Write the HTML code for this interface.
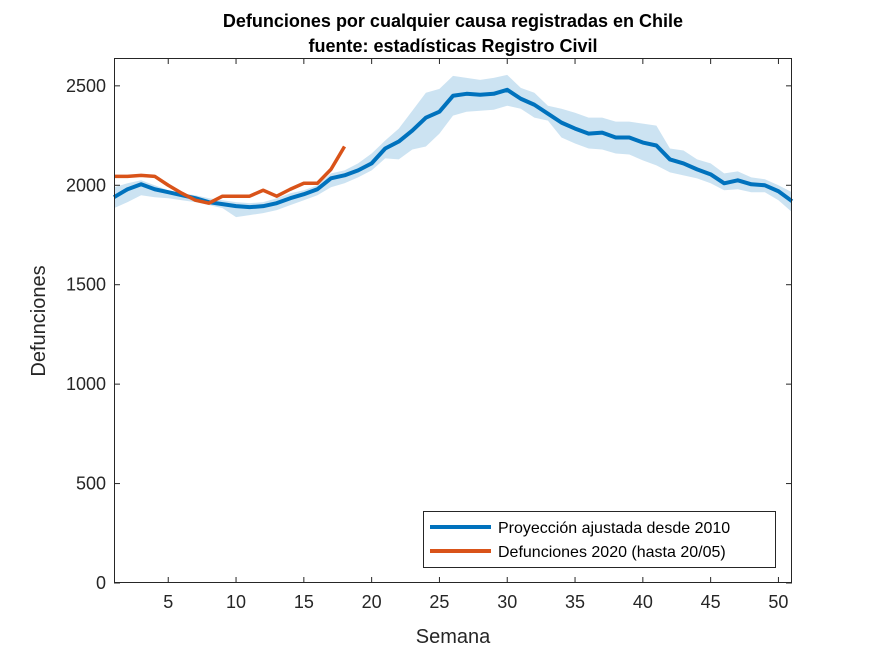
<!DOCTYPE html>
<html><head><meta charset="utf-8"><style>
html,body{margin:0;padding:0;background:#fff;}
svg{display:block;font-family:"Liberation Sans",Arial,sans-serif;}
</style></head><body>
<svg id="chart" width="875" height="656">
<rect x="0" y="0" width="875" height="656" fill="#fff"/>
<text x="453" y="27" text-anchor="middle" font-size="18" font-weight="bold" fill="#000">Defunciones por cualquier causa registradas en Chile</text>
<text x="453" y="52" text-anchor="middle" font-size="18" font-weight="bold" fill="#000">fuente: estadísticas Registro Civil</text>
<g id="plot"></g>
<text x="453" y="643" text-anchor="middle" font-size="20" fill="#262626">Semana</text>
<text transform="translate(45,321) rotate(-90)" text-anchor="middle" font-size="20" fill="#262626">Defunciones</text>
<g>
<rect x="423.5" y="511.5" width="352" height="56" fill="#fff" stroke="#262626" stroke-width="1"/>
<line x1="430" y1="527" x2="491" y2="527" stroke="#0072BD" stroke-width="4"/>
<text x="498" y="533" font-size="16" fill="#000">Proyección ajustada desde 2010</text>
<line x1="430" y1="551" x2="491" y2="551" stroke="#D95319" stroke-width="4"/>
<text x="498" y="557" font-size="16" fill="#000">Defunciones 2020 (hasta 20/05)</text>
</g>
</svg>
<script>
const weeks = [1,2,3,4,5,6,7,8,9,10,11,12,13,14,15,16,17,18,19,20,21,22,23,24,25,26,27,28,29,30,31,32,33,34,35,36,37,38,39,40,41,42,43,44,45,46,47,48,49,50,51];
const proyeccion = [1940,1980,2005,1980,1965,1950,1935,1915,1905,1895,1890,1895,1910,1935,1955,1980,2035,2050,2075,2110,2185,2220,2275,2340,2370,2450,2460,2455,2460,2480,2435,2405,2360,2315,2285,2260,2265,2240,2240,2215,2200,2130,2110,2080,2055,2010,2025,2005,2000,1970,1920];
const bandUpper = [1990,2010,2025,2000,1975,1960,1950,1935,1925,1915,1910,1915,1935,1960,1975,2000,2060,2075,2110,2160,2225,2285,2375,2465,2485,2550,2540,2530,2540,2555,2490,2465,2400,2385,2365,2340,2340,2320,2320,2310,2300,2185,2175,2130,2110,2060,2070,2040,2030,2000,1965];
const bandLower = [1885,1915,1950,1940,1935,1925,1915,1900,1885,1840,1850,1860,1875,1900,1925,1950,1990,2010,2040,2075,2135,2130,2180,2195,2260,2350,2370,2375,2380,2400,2385,2340,2325,2240,2210,2185,2180,2160,2155,2125,2100,2065,2050,2035,2010,1975,1980,1965,1965,1925,1865];
const weeks2020 = [1,2,3,4,5,6,7,8,9,10,11,12,13,14,15,16,17,18];
const def2020 = [2045,2045,2050,2045,2000,1960,1925,1910,1945,1945,1945,1975,1945,1980,2010,2010,2080,2195];
const xTicks = [5,10,15,20,25,30,35,40,45,50];
const yTicks = [0,500,1000,1500,2000,2500];

const L=114,R=792,T=58,B=583,xMin=1,xMax=51,yMin=0,yMax=2640;
const sx=v=>L+(v-xMin)/(xMax-xMin)*(R-L);
const sy=v=>B-(v-yMin)/(yMax-yMin)*(B-T);
const NS='http://www.w3.org/2000/svg';
const g=document.getElementById('plot');
function mk(tag,attrs){const e=document.createElementNS(NS,tag);for(const k in attrs)e.setAttribute(k,attrs[k]);g.appendChild(e);return e;}

let d='M'+weeks.map((w,i)=>sx(w)+','+sy(bandUpper[i])).join('L');
for(let i=weeks.length-1;i>=0;i--) d+='L'+sx(weeks[i])+','+sy(bandLower[i]);
d+='Z';
const band=mk('path',{d:d,fill:'#0072BD','fill-opacity':'0.2',stroke:'none'});



const l1=mk('polyline',{points:weeks.map((w,i)=>sx(w)+','+sy(proyeccion[i])).join(' '),fill:'none',stroke:'#0072BD','stroke-width':4,'stroke-linejoin':'round'});


const l2=mk('polyline',{points:weeks2020.map((w,i)=>sx(w)+','+sy(def2020[i])).join(' '),fill:'none',stroke:'#D95319','stroke-width':3.5,'stroke-linejoin':'round'});



const box=mk('rect',{x:L+0.5,y:T+0.5,width:R-L-1,height:B-T-1,fill:'none',stroke:'#262626','stroke-width':1});



xTicks.forEach(v=>{
  const x=sx(v);
  mk('line',{x1:x,y1:B,x2:x,y2:B-6,stroke:'#262626'});
  mk('line',{x1:x,y1:T,x2:x,y2:T+6,stroke:'#262626'});
  const t=mk('text',{x:x,y:B+25,'text-anchor':'middle','font-size':18,fill:'#262626'});
  t.textContent=v;
  
  
});
yTicks.forEach(v=>{
  const y=sy(v);
  mk('line',{x1:L,y1:y,x2:L+6,y2:y,stroke:'#262626'});
  mk('line',{x1:R,y1:y,x2:R-6,y2:y,stroke:'#262626'});
  const t=mk('text',{x:L-8,y:y+6,'text-anchor':'end','font-size':18,fill:'#262626'});
  t.textContent=v;
  
  
});
</script>
</body></html>
